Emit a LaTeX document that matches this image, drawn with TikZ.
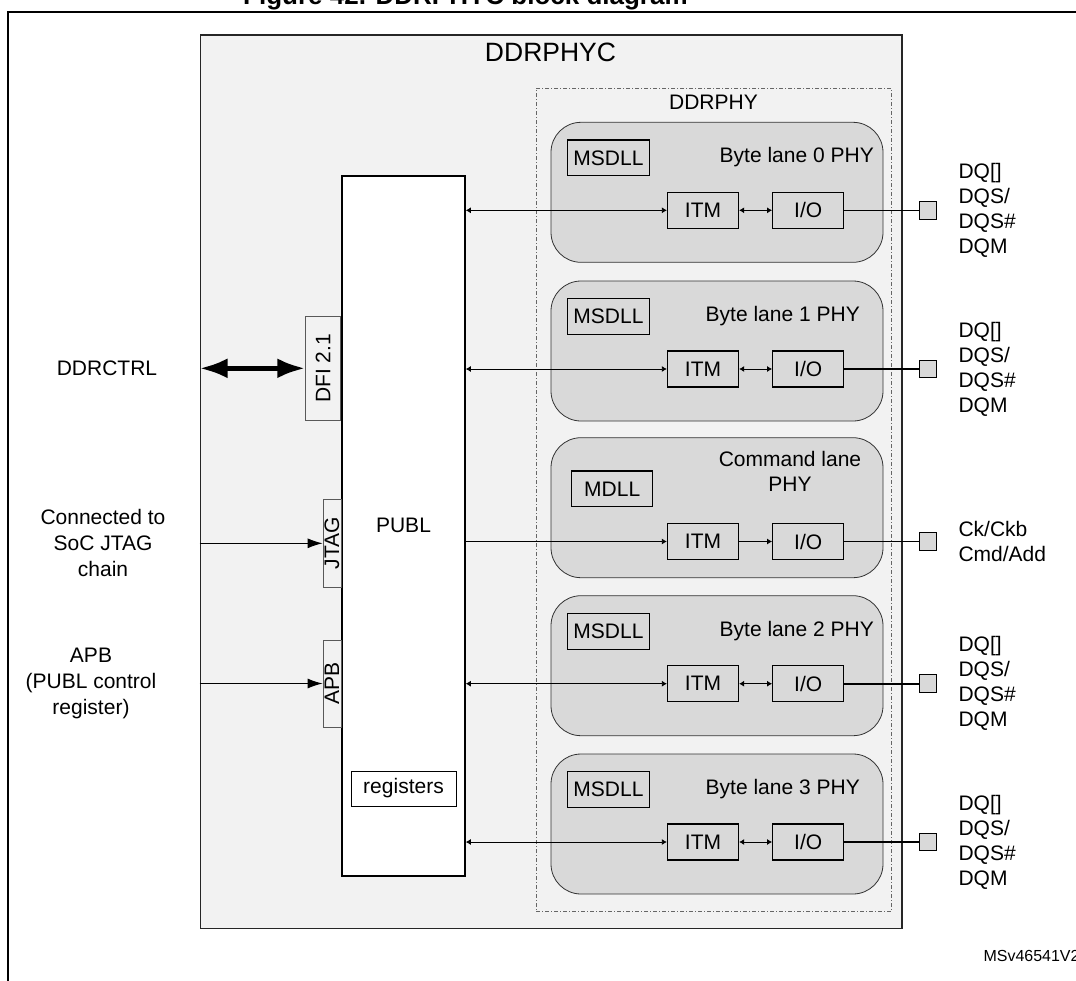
\documentclass[tikz,border=0pt]{standalone}
\usepackage{fontspec}
\setmainfont{Liberation Sans}
\usetikzlibrary{arrows.meta,positioning}
\definecolor{phycgray}{HTML}{F2F2F2}
\definecolor{lanegray}{HTML}{D9D9D9}
\definecolor{tagedge}{HTML}{595959}

\begin{document}
\begin{tikzpicture}[x=1pt,y=-1pt,
    every node/.style={font=\fontsize{21}{25}\selectfont, inner sep=0pt},
    phyc/.style={draw=black!85, line width=1.6pt, fill=phycgray},
    lanebox/.style={draw=black!80, line width=0.8pt, fill=lanegray, rounded corners=30pt, minimum width=332pt, minimum height=140pt},
    dll/.style={draw, line width=1.3pt, minimum width=81.6pt, minimum height=35.7pt},
    unit/.style={draw, line width=1.3pt, minimum width=71pt, minimum height=36pt},
    tagbox/.style={draw=tagedge, line width=0.8pt, fill=phycgray},
    pad/.style={draw, line width=1pt, fill=lanegray, minimum size=17.7pt},
    pins/.style={anchor=west, align=left},
    sig/.style={line width=0.8pt, >={Latex[length=5pt,width=6pt]}},
    padline/.style={line width=1.6pt},
    busarrow/.style={line width=5pt, {Latex[length=28pt,width=20pt]}-{Latex[length=28pt,width=20pt]}},
    inarrow/.style={line width=1pt, -{Latex[length=15pt,width=10pt]}}]
  \useasboundingbox (0,0) rectangle (1076,980);
  \draw[line width=2pt] (7.7,12) rectangle (1100,1000);
  \node[anchor=base west, font=\bfseries\fontsize{26}{30}\selectfont] (figtitle) at (243,4) {Figure 42. DDRPHYC block diagram};

  \node[phyc, minimum width=701.4pt, minimum height=893.6pt] (ddrphyc) at (551,481.5) {};
  \node (phycname) at (550.5,52.5) {\fontsize{26.5}{30}\selectfont DDRPHYC};
  \node[draw=black!60, line width=0.8pt, dash pattern=on 4pt off 2pt on 1pt off 2pt, minimum width=355.7pt, minimum height=822.7pt] (ddrphy) at (713.85,499.65) {};
  \node (phyname) at (713.5,102.5) {DDRPHY};

  \node[draw, line width=1.6pt, fill=white, minimum width=123pt, minimum height=700.3pt] (publ) at (403.5,525.85) {PUBL};
  \node[draw, line width=0.9pt, fill=white, minimum width=105pt, minimum height=35pt] (regs) at (403.5,788.5) {registers};
  \node[tagbox, minimum width=34.8pt, minimum height=104.7pt] (dfi) at (323.1,368.3) {\rotatebox{90}{DFI 2.1}};
  \node[tagbox, minimum width=18pt, minimum height=88.7pt] (jtag) at (332,543.3) {\rotatebox{90}{JTAG}};
  \node[tagbox, minimum width=18pt, minimum height=87pt] (apb) at (332,683.5) {\rotatebox{90}{APB}};

  \node (ddrctrl) at (107,368) {DDRCTRL};
  \node[align=center, font=\fontsize{21}{26}\selectfont] (jtagsrc) at (103,543) {Connected to\\SoC JTAG\\chain};
  \node[align=center, font=\fontsize{21}{26}\selectfont] (apbsrc) at (91,683) {APB\\(PUBL control\\register)};
  \draw[busarrow] (ddrphyc.west |- dfi.west) -- (dfi.west);
  \draw[inarrow] (ddrphyc.west |- jtag.west) -- (jtag.west);
  \draw[inarrow] (ddrphyc.west |- apb.west) -- (apb.west);

  \foreach \n/\top/\tx in {0/122.3/874, 1/281/860, 2/595.7/874, 3/754/860} {
    \node[lanebox] (lane\n) at (717,\top+70) {};
    \node[dll] (dll\n) at (608.5,\top+35.6) {MSDLL};
    \node[anchor=east] (lanename\n) at (\tx,\top+35) {Byte lane \n\ PHY};
    \node[unit] (itm\n) at (703,\top+88) {ITM};
    \node[unit] (io\n) at (808.2,\top+88) {I/O};
    \node[pad] (pad\n) at (927.85,\top+88) {};
    \node[pins] (pins\n) at (958.3,\top+88) {DQ[]\\DQS/\\DQS\#\\DQM};
    \draw[sig,<->] (publ.east |- itm\n.west) -- (itm\n.west);
    \draw[sig,<->] (itm\n) -- (io\n);
    \draw[padline] (io\n) -- (pad\n);
  }

  \node[lanebox] (lanecmd) at (717,507.7) {};
  \node[dll, minimum width=81pt] (mdll) at (612.2,488.85) {MDLL};
  \node[align=center] (cmdname) at (790,471.6) {Command lane\\PHY};
  \node[unit] (itmcmd) at (703,541.5) {ITM};
  \node[unit] (iocmd) at (808.2,541.5) {I/O};
  \node[pad] (padcmd) at (927.85,541.5) {};
  \node[pins] (pinscmd) at (958.3,541) {Ck/Ckb\\Cmd/Add};
  \draw[sig,->] (publ.east |- itmcmd.west) -- (itmcmd.west);
  \draw[sig,->] (itmcmd) -- (iocmd);
  \draw[padline] (iocmd) -- (padcmd);

  \node[anchor=west, font=\fontsize{16}{19}\selectfont] (docref) at (983.3,956) {MSv46541V2};
\end{tikzpicture}
\end{document}
